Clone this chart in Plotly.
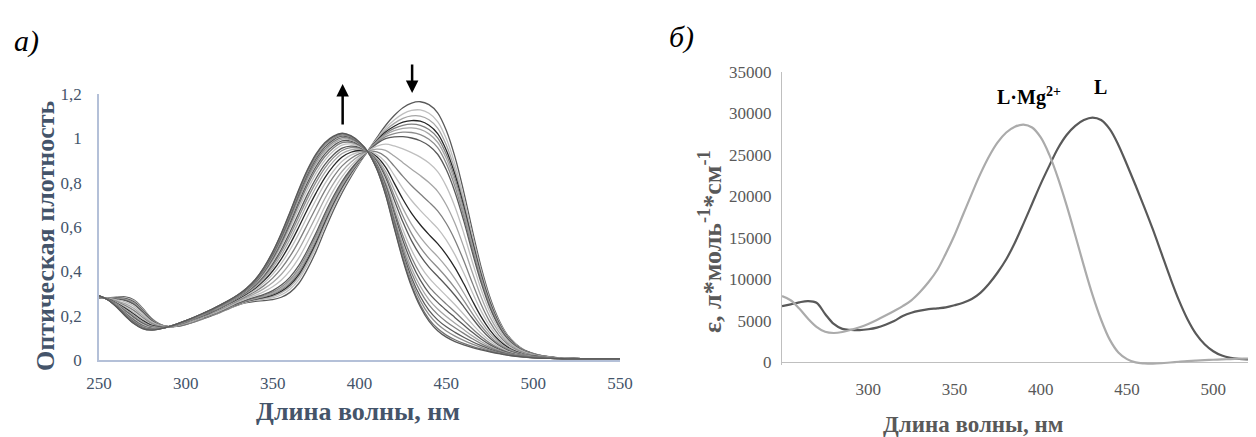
import plotly.graph_objects as go

W, H = 1256, 437
OFF = 8  # page body margin that the browser adds around the figure

# ---------- panel a: titration spectra ----------
wl_a = list(range(250, 555, 5))
# free ligand L (start of titration)
abs_L = [0.280, 0.281, 0.283, 0.285, 0.272, 0.235, 0.190, 0.162, 0.150, 0.152,
         0.160, 0.172, 0.186, 0.200, 0.215, 0.232, 0.248, 0.259, 0.265, 0.268,
         0.272, 0.283, 0.305, 0.345, 0.410, 0.490, 0.585, 0.675, 0.755, 0.825,
         0.888, 0.945, 1.003, 1.058, 1.103, 1.138, 1.159, 1.165, 1.152, 1.115,
         1.035, 0.915, 0.760, 0.585, 0.420, 0.285, 0.185, 0.115, 0.072, 0.045,
         0.030, 0.020, 0.014, 0.010, 0.008, 0.007, 0.006, 0.005, 0.005, 0.005,
         0.005]
# complex L·Mg2+ (end of titration)
abs_LMg = [0.290, 0.272, 0.240, 0.200, 0.165, 0.142, 0.135, 0.140, 0.150, 0.163,
           0.178, 0.194, 0.211, 0.229, 0.249, 0.270, 0.294, 0.324, 0.363, 0.418,
           0.488, 0.572, 0.668, 0.768, 0.858, 0.930, 0.980, 1.010, 1.023, 1.012,
           0.983, 0.937, 0.860, 0.745, 0.595, 0.450, 0.330, 0.240, 0.175, 0.132,
           0.103, 0.083, 0.068, 0.056, 0.046, 0.037, 0.029, 0.022, 0.017, 0.013,
           0.010, 0.008, 0.007, 0.006, 0.005, 0.005, 0.005, 0.005, 0.005, 0.005,
           0.005]
complex_share = [0.0, 0.04, 0.07, 0.095, 0.115, 0.135, 0.16, 0.19, 0.27, 0.36,
                 0.45, 0.53, 0.60, 0.66, 0.71, 0.75, 0.80, 0.84, 0.87, 0.90,
                 0.925, 0.95, 0.97, 0.99, 1.0]
curve_colors = ["#595959", "#BFBFBF", "#A6A6A6", "#262626", "#7F7F7F",
                "#A6A6A6", "#8C8C8C", "#595959", "#BFBFBF", "#A6A6A6",
                "#7F7F7F", "#BFBFBF", "#262626", "#A6A6A6", "#8C8C8C",
                "#595959", "#BFBFBF", "#7F7F7F", "#595959", "#A6A6A6",
                "#7F7F7F", "#595959", "#8C8C8C", "#737373", "#595959"]

x_ticks_a = [250, 300, 350, 400, 450, 500, 550]
y_ticks_a = [0, 0.2, 0.4, 0.6, 0.8, 1.0, 1.2]
y_text_a = ["0", "0,2", "0,4", "0,6", "0,8", "1", "1,2"]
arrow_up_nm = 390.3
arrow_down_nm = 430.3

# ---------- panel b: molar absorption ----------
wl_b = list(range(250, 535, 5))
eps_L = [6750, 6950, 7200, 7350, 7150, 5800, 4600, 4000, 3880, 3850,
         3950, 4150, 4500, 4950, 5550, 5950, 6200, 6380, 6480, 6600,
         6850, 7150, 7600, 8350, 9450, 10800, 12400, 14400, 16700, 19100,
         21500, 23700, 25800, 27400, 28500, 29200, 29500, 29200, 28100, 26200,
         23800, 21300, 18700, 16000, 13100, 10200, 7500, 5200, 3400, 2150,
         1300, 780, 500, 370, 310, 280, 260]
eps_LMg = [7950, 7450, 6450, 5250, 4250, 3650, 3500, 3620, 3880, 4200,
           4600, 5080, 5600, 6150, 6750, 7450, 8450, 9650, 11100, 13100,
           15300, 17800, 20300, 22700, 24800, 26500, 27700, 28400, 28650, 28300,
           27100, 25000, 22200, 18900, 15300, 11600, 8100, 5100, 2700, 1150,
           350, -50, -170, -200, -150, -60, 30, 110, 170, 220,
           270, 310, 350, 390, 420, 450, 470]
x_ticks_b = [300, 350, 400, 450, 500]
y_ticks_b = [0, 5000, 10000, 15000, 20000, 25000, 30000, 35000]

SERIF = "Liberation Serif, Times New Roman, serif"
SLATE = "#44546A"
GRAY = "#595959"

fig = go.Figure()

for share, col in zip(complex_share, curve_colors):
    spec = [(1 - share) * a + share * b for a, b in zip(abs_L, abs_LMg)]
    fig.add_trace(go.Scatter(x=wl_a, y=spec, mode="lines",
                             line=dict(color=col, width=1.3, shape="spline"),
                             xaxis="x", yaxis="y", showlegend=False,
                             hoverinfo="skip"))

fig.add_trace(go.Scatter(x=wl_b, y=eps_L, mode="lines",
                         line=dict(color="#595959", width=2.2, shape="spline"),
                         xaxis="x2", yaxis="y2", showlegend=False))
fig.add_trace(go.Scatter(x=wl_b, y=eps_LMg, mode="lines",
                         line=dict(color="#ABABAB", width=2.2, shape="spline"),
                         xaxis="x2", yaxis="y2", showlegend=False))

# screen pixel -> paper fraction (the figure sits OFF px from the page corner)
def px(x):
    return (x - OFF) / W

def py(y):
    return 1 - (y - OFF) / H

ax_a_col = "#B4C0D8"
ax_b_col = "#BFBFBF"

yb_min = -400
yb0_px, yb35_px = 362, 72
per = (yb0_px - yb35_px) / 35000
yb_bottom_px = yb0_px - yb_min * per

xb_right_px = 1256
xb_max = 250 + (xb_right_px - 782) / 1.725

fig.update_layout(
    width=W, height=H,
    margin=dict(l=0, r=0, t=0, b=0, pad=0, autoexpand=False),
    paper_bgcolor="white", plot_bgcolor="white",
    showlegend=False,
    font=dict(family=SERIF),
    xaxis=dict(domain=[px(99), px(620)], range=[250, 550],
               tickvals=x_ticks_a, showline=True, linecolor=ax_a_col,
               linewidth=1.5, showgrid=False, zeroline=False,
               ticks="outside", ticklen=7, tickcolor="rgba(0,0,0,0)",
               tickfont=dict(family=SERIF, size=17, color=SLATE),
               anchor="y"),
    yaxis=dict(domain=[py(360), py(94)], range=[0, 1.2],
               tickvals=y_ticks_a, ticktext=y_text_a, showline=True,
               linecolor=ax_a_col, linewidth=1.5, showgrid=False,
               zeroline=False, ticks="outside", ticklen=12,
               tickcolor="rgba(0,0,0,0)",
               tickfont=dict(family=SERIF, size=17, color=SLATE),
               anchor="x"),
    xaxis2=dict(domain=[px(782), px(xb_right_px)], range=[250, xb_max],
                tickvals=x_ticks_b, showline=False, showgrid=False,
                zeroline=False, ticks="outside", ticklen=8,
                tickcolor="rgba(0,0,0,0)",
                tickfont=dict(family=SERIF, size=17, color=GRAY),
                anchor="y2"),
    yaxis2=dict(domain=[py(yb_bottom_px), py(yb35_px)], range=[yb_min, 35000],
                tickvals=y_ticks_b, ticktext=[str(v) for v in y_ticks_b],
                showline=True, linecolor=ax_b_col, linewidth=1.2,
                showgrid=False, zeroline=True, zerolinecolor=ax_b_col,
                zerolinewidth=1.2, ticks="outside", ticklen=6,
                tickcolor="rgba(0,0,0,0)",
                tickfont=dict(family=SERIF, size=17, color=GRAY),
                anchor="x2"),
)

def label(x, y, text, size, color, angle=0):
    return dict(x=px(x), y=py(y), xref="paper", yref="paper", text=text,
                textangle=angle, showarrow=False, xanchor="center",
                yanchor="middle", font=dict(family=SERIF, size=size, color=color))

ann = [
    label(26, 41, "<i>a)</i>", 30, "black"),
    label(681, 37, "<i>б)</i>", 30, "black"),
    label(45, 236, "<b>Оптическая плотность</b>", 26, SLATE, -90),
    label(358, 411, "<b>Длина волны, нм</b>", 26, SLATE),
    label(710, 242, "<b>ε, л*моль<sup>-1</sup>*см<sup>-1</sup></b>", 26, GRAY, -90),
    label(973, 424, "<b>Длина волны, нм</b>", 23, GRAY),
    label(1029, 96, "<b>L·Mg<sup>2+</sup></b>", 20, "black"),
    label(1100, 87, "<b>L</b>", 20, "black"),
]
# arrows in panel a (x in data units, y in paper units, tail offset in px)
ann.append(dict(x=arrow_up_nm, y=py(84), xref="x", yref="paper",
                ax=0, ay=42, showarrow=True, arrowhead=2, arrowsize=1,
                arrowwidth=2.5, arrowcolor="black", text=""))
ann.append(dict(x=arrow_down_nm, y=py(93), xref="x", yref="paper",
                ax=0, ay=-30, showarrow=True, arrowhead=2, arrowsize=1,
                arrowwidth=2.5, arrowcolor="black", text=""))

fig.update_layout(annotations=ann)
fig.write_html("out.html")
